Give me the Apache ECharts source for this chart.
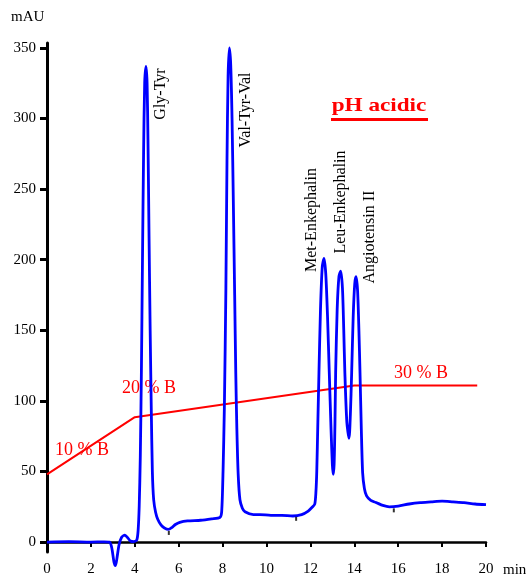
<!DOCTYPE html>
<html>
<head>
<meta charset="UTF-8">
<title>pH acidic</title>
<script src="https://cdn.jsdelivr.net/npm/echarts@6/dist/echarts.min.js"></script>
<style>
  html, body { margin: 0; padding: 0; background: #fff; }
  #main { width: 528px; height: 577px; }
</style>
</head>
<body>
<div id="main"></div>
<script>
// chromatogram trace, [min, mAU]
var trace = [
    [0, 0], [1, 0.3], [2, 0], [2.6, 0.2], [2.85, 0], [2.95, -4], [3.05, -14], [3.12, -16.7],
    [3.2, -10], [3.28, -2], [3.4, 3.5], [3.55, 5], [3.68, 3], [3.8, 0.8], [3.95, 0.3], [4.09, 1.5],
    [4.15, 8], [4.2, 25], [4.25, 60], [4.3, 120], [4.35, 200], [4.4, 275], [4.45, 325],
    [4.51, 337], [4.56, 325], [4.6, 285], [4.65, 215], [4.7, 150], [4.75, 95], [4.8, 50],
    [4.86, 30], [4.95, 21], [5.05, 16], [5.2, 12], [5.35, 10], [5.53, 9], [5.7, 10.5], [5.85, 12.5],
    [6.05, 14], [6.4, 15], [7.0, 15.5], [7.5, 16.5], [7.88, 17.5],
    [7.96, 22], [8.02, 50], [8.08, 95], [8.15, 180], [8.2, 270], [8.25, 330], [8.31, 350],
    [8.37, 338], [8.43, 300], [8.49, 240], [8.55, 175], [8.6, 120], [8.65, 80], [8.71, 48],
    [8.79, 30], [8.9, 24], [9.02, 21.5], [9.4, 19.5], [9.7, 19.5], [10.2, 19], [10.7, 19],
    [11.2, 18.5], [11.6, 19.5], [11.9, 22], [12.1, 25], [12.2, 27], [12.25, 35], [12.29, 50],
    [12.34, 85], [12.39, 120], [12.46, 165], [12.54, 195], [12.62, 201], [12.7, 190],
    [12.78, 160], [12.86, 120], [12.94, 80], [13.0, 55], [13.04, 48], [13.08, 55],
    [13.12, 85], [13.15, 120], [13.22, 165], [13.3, 188], [13.38, 192], [13.46, 180],
    [13.52, 150], [13.57, 120], [13.66, 85], [13.76, 73.5], [13.82, 90], [13.88, 120],
    [13.95, 160], [14.02, 183], [14.08, 188], [14.15, 178], [14.21, 150], [14.26, 120],
    [14.32, 80], [14.38, 49], [14.46, 38], [14.56, 32.7], [14.75, 29.5], [15.0, 28],
    [15.3, 26], [15.6, 25], [16.0, 25.5], [16.5, 27], [17.0, 28], [17.5, 28.5], [18.0, 29],
    [18.5, 28.5], [19.0, 28], [19.5, 27], [20.0, 26.5]
];
// small integration marks under the trace
var marks = [[5.55, 6.5], [11.35, 16.5], [15.8, 22.5]];
// gradient profile drawn on the mAU scale
var gradient = [[0, 48], [4, 88.5], [14, 111], [19.6, 111]];
var xTicks = [0, 20, 2];
var yTickValues = [0, 50, 100, 150, 200, 250, 300, 350];

var serif = '"Liberation Serif", "DejaVu Serif", serif';
var myChart = echarts.init(document.getElementById('main'));

var option = {
    animation: false,
    backgroundColor: '#fff',
    grid: { left: 47, right: 42, top: 43, bottom: 24 },
    xAxis: {
        type: 'value',
        min: xTicks[0], max: xTicks[1], interval: xTicks[2],
        axisLine: { lineStyle: { color: '#000', width: 2.5 } },
        axisTick: { length: 5, lineStyle: { color: '#000', width: 2 } },
        axisLabel: { color: '#000', fontFamily: serif, fontSize: 15, margin: 10 },
        splitLine: { show: false }
    },
    yAxis: {
        type: 'value',
        min: -7, max: 353.5,
        axisLine: { show: true, lineStyle: { color: '#000', width: 3 } },
        axisTick: { show: true, customValues: yTickValues, length: 7, lineStyle: { color: '#000', width: 3 } },
        axisLabel: { customValues: yTickValues, color: '#000', fontFamily: serif, fontSize: 15, margin: 11 },
        splitLine: { show: false }
    },
    series: [
        {
            type: 'line',
            data: gradient,
            showSymbol: false,
            lineStyle: { color: '#ff0000', width: 2 },
            z: 2
        },
        {
            type: 'line',
            data: trace,
            showSymbol: false,
            clip: false,
            smooth: 0.25,
            lineStyle: { color: '#0000ff', width: 2.8 },
            z: 3
        },
        {
            type: 'scatter',
            data: marks,
            symbol: 'rect',
            symbolSize: [2, 4],
            itemStyle: { color: '#000' },
            z: 4
        }
    ],
    graphic: [
        { type: 'text', left: 11, top: 10, style: { text: 'mAU', font: '15px ' + serif, fill: '#000' } },
        { type: 'text', left: 503, top: 563, style: { text: 'min', font: '15px ' + serif, fill: '#000' } },
        { type: 'text', x: 379, y: 106, scaleX: 1.22, style: { text: 'pH acidic', font: 'bold 19px ' + serif, fill: '#ff0000', align: 'center', verticalAlign: 'middle' } },
        { type: 'rect', shape: { x: 331, y: 118, width: 97, height: 3 }, style: { fill: '#ff0000' } },
        { type: 'text', x: 82, y: 450, style: { text: '10 % B', font: '18px ' + serif, fill: '#ff0000', align: 'center', verticalAlign: 'middle' } },
        { type: 'text', x: 149, y: 388, style: { text: '20 % B', font: '18px ' + serif, fill: '#ff0000', align: 'center', verticalAlign: 'middle' } },
        { type: 'text', x: 421, y: 373, style: { text: '30 % B', font: '18px ' + serif, fill: '#ff0000', align: 'center', verticalAlign: 'middle' } },
        { type: 'text', x: 161, y: 94, rotation: Math.PI / 2, style: { text: 'Gly-Tyr', font: '16px ' + serif, fill: '#000', align: 'center', verticalAlign: 'middle' } },
        { type: 'text', x: 246, y: 110, rotation: Math.PI / 2, style: { text: 'Val-Tyr-Val', font: '16px ' + serif, fill: '#000', align: 'center', verticalAlign: 'middle' } },
        { type: 'text', x: 312, y: 220, rotation: Math.PI / 2, style: { text: 'Met-Enkephalin', font: '16px ' + serif, fill: '#000', align: 'center', verticalAlign: 'middle' } },
        { type: 'text', x: 341, y: 202, rotation: Math.PI / 2, style: { text: 'Leu-Enkephalin', font: '16px ' + serif, fill: '#000', align: 'center', verticalAlign: 'middle' } },
        { type: 'text', x: 370, y: 237, rotation: Math.PI / 2, style: { text: 'Angiotensin II', font: '16px ' + serif, fill: '#000', align: 'center', verticalAlign: 'middle' } }
    ]
};

myChart.setOption(option);
</script>
</body>
</html>
